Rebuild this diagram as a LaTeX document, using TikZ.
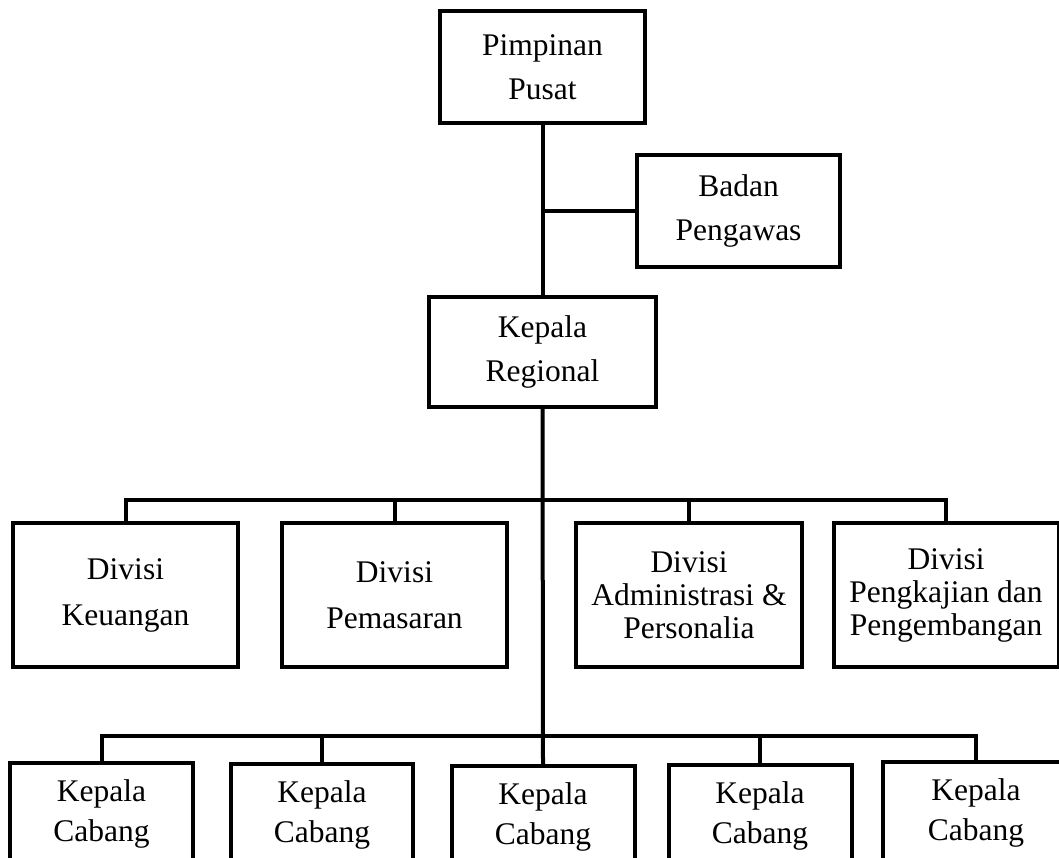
\documentclass[tikz,border=0pt]{standalone}
\usepackage{fontspec}
\setmainfont{Liberation Serif}
\begin{document}
\begin{tikzpicture}[x=1pt,y=-1pt,
  orgbox/.style={draw, line width=4pt, inner sep=0pt, align=center,
    font=\fontsize{31.5}{33}\selectfont},
  conn/.style={line width=4pt}]
\useasboundingbox (0,0) rectangle (1059,857);
\clip (0,0) rectangle (1059,857);
% top
\node[orgbox, minimum width=205pt, minimum height=112pt] (pp) at (542.5,67) {Pimpinan\\[11pt]Pusat};
\node[orgbox, minimum width=203pt, minimum height=112pt] (bp) at (738.5,211) {Badan\\[11pt]Pengawas};
\node[orgbox, minimum width=227pt, minimum height=110pt] (kr) at (542.5,352) {Kepala\\[11pt]Regional};
% divisi
\node[orgbox, minimum width=225pt, minimum height=144pt] (d1) at (125.5,595) {Divisi\\[13pt]Keuangan};
\node[orgbox, minimum width=225pt, minimum height=144pt] (d2) at (394.5,595) {Divisi\\[13pt]Pemasaran};
\node[orgbox, minimum width=226pt, minimum height=144pt] (d3) at (689,595) {Divisi\\Administrasi \&\\Personalia};
\node[orgbox, minimum width=225pt, minimum height=144pt] (d4) at (946,595) {Divisi\\Pengkajian dan\\Pengembangan};
% cabang
\node[orgbox, minimum width=183pt, minimum height=101pt] (b1) at (101.5,813.5) {Kepala\\[7pt]Cabang};
\node[orgbox, minimum width=182pt, minimum height=101pt] (b2) at (322,814.5) {Kepala\\[7pt]Cabang};
\node[orgbox, minimum width=183pt, minimum height=101pt] (b3) at (543,816.5) {Kepala\\[7pt]Cabang};
\node[orgbox, minimum width=183pt, minimum height=101pt] (b4) at (760,815.5) {Kepala\\[7pt]Cabang};
\node[orgbox, minimum width=186pt, minimum height=101pt] (b5) at (976,812.5) {Kepala\\[7pt]Cabang};
% buses
\coordinate (dbus) at (0,500);
\coordinate (bbus) at (0,736);
% connectors
\draw[conn] (pp.south) -- (kr.north);
\draw[conn] (bp.west) -- (bp.west -| pp.south);
\draw[conn] (kr.south) -- (b3.north);
\draw[conn] (d1.north) -- (d1.north |- dbus) -- (d4.north |- dbus) -- (d4.north);
\draw[conn] (d2.north) -- (d2.north |- dbus);
\draw[conn] (d3.north) -- (d3.north |- dbus);
\draw[conn] (b1.north) -- (b1.north |- bbus) -- (b5.north |- bbus) -- (b5.north);
\draw[conn] (b2.north) -- (b2.north |- bbus);
\draw[conn] (b4.north) -- (b4.north |- bbus);
\end{tikzpicture}
\end{document}
